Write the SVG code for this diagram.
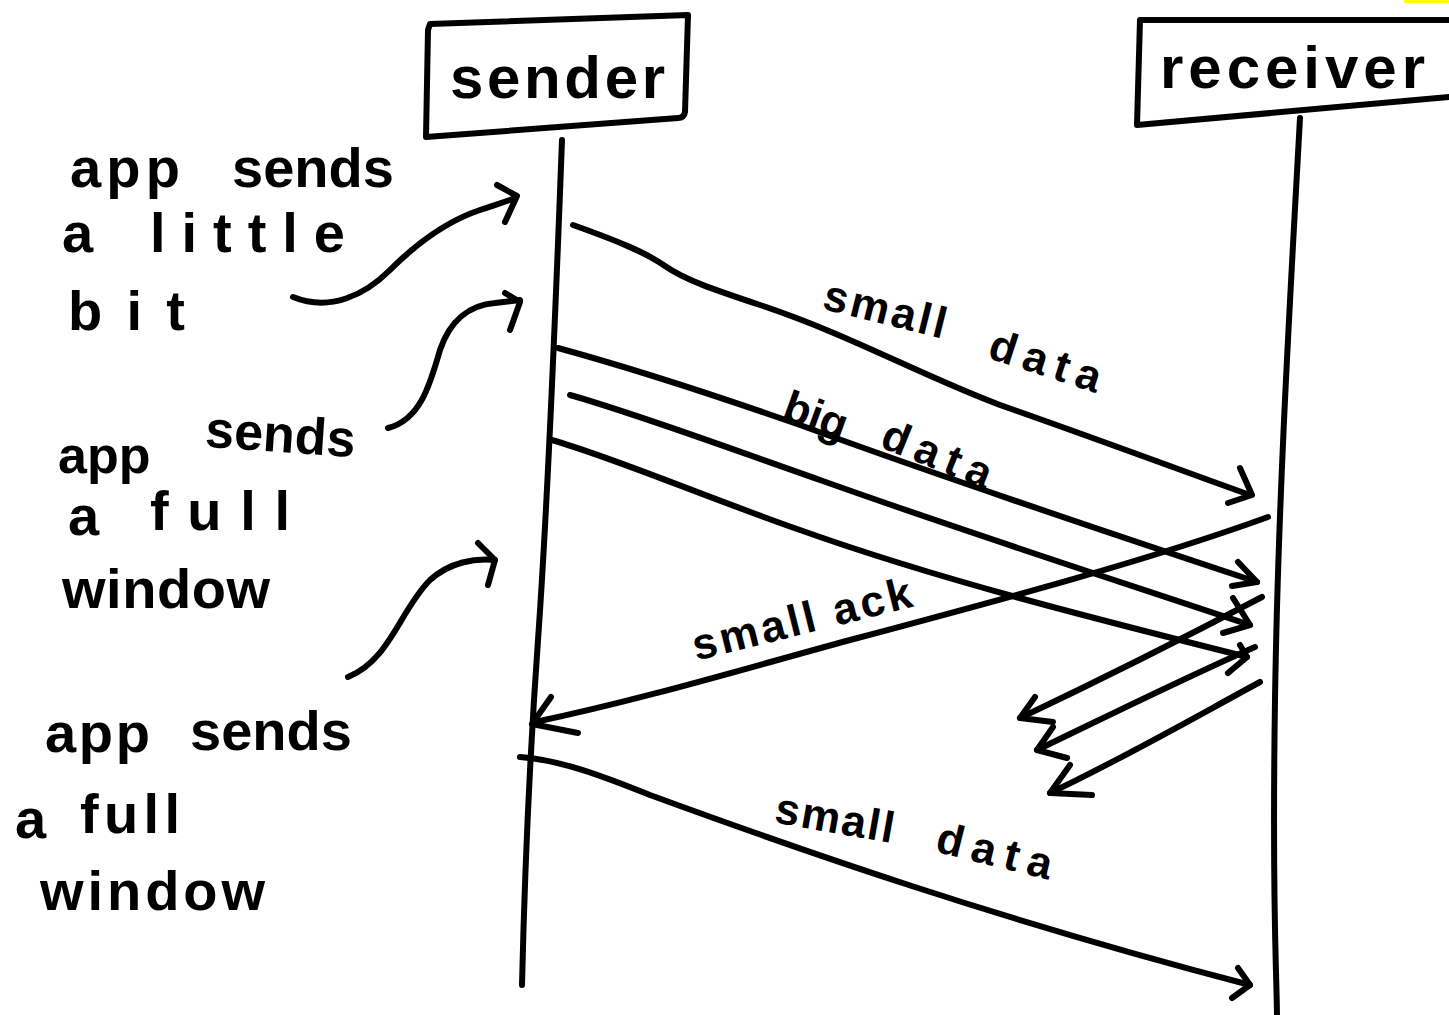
<svg xmlns="http://www.w3.org/2000/svg" width="1449" height="1015" viewBox="0 0 1449 1015">
<style>
.ln{fill:none;stroke:#000;stroke-width:6;stroke-linecap:round;stroke-linejoin:round}
.t{font-family:"Liberation Sans","DejaVu Sans",sans-serif;font-weight:bold;fill:#000}
.big{font-size:56px}
.mid{font-size:52px}
.lbl{font-size:44px}
.hdr{font-size:60px}
</style>
<rect width="1449" height="1015" fill="#fff"/>
<rect x="1404" y="0" width="45" height="3" fill="#ffff00"/>
<g id="sender">
<path class="ln" d="M430,24 L688,15 L685,112 Q684,118 678,118 L426,137 L428,30 Z"/>
<text class="t hdr" x="450" y="98" textLength="215" lengthAdjust="spacing">sender</text>
</g>
<g id="receiver">
<path class="ln" d="M1449,20 L1140,20 L1137,125 L1449,97"/>
<text class="t hdr" x="1160" y="88" textLength="265" lengthAdjust="spacing">receiver</text>
</g>
<g id="lifelines">
<path class="ln" d="M562,140 C556,300 548,500 538,640 S524,900 522,985"/>
<path class="ln" d="M1300,118 C1290,300 1278,500 1275,700 S1276,950 1277,1015"/>
</g>
<g id="notes">
<text class="t big" x="70" y="187" textLength="110" lengthAdjust="spacing">app</text>
<text class="t big" x="232" y="187">sends</text>
<text class="t big" x="62" y="252">a</text>
<text class="t big" x="150" y="252" textLength="195" lengthAdjust="spacing">little</text>
<text class="t big" x="68" y="330" textLength="117" lengthAdjust="spacing">bit</text>
<text class="t mid" x="58" y="473">app</text>
<text class="t mid" x="205" y="452" transform="rotate(4 280 440)">sends</text>
<text class="t big" x="68" y="535">a</text>
<text class="t big" x="150" y="530" textLength="140" lengthAdjust="spacing">full</text>
<text class="t big" x="62" y="608" textLength="208" lengthAdjust="spacing">window</text>
<text class="t big" x="45" y="752" textLength="105" lengthAdjust="spacing">app</text>
<text class="t big" x="190" y="750">sends</text>
<text class="t big" x="15" y="838">a</text>
<text class="t big" x="80" y="833" textLength="100" lengthAdjust="spacing">full</text>
<text class="t big" x="40" y="910" textLength="225" lengthAdjust="spacing">window</text>
</g>
<g id="connectors">
<!-- note pointers -->
<path class="ln" d="M293,297 C330,312 365,295 390,270 C420,240 450,220 480,210 C495,205 505,202 515,198"/>
<path class="ln" d="M497,185 L517,196 L505,222"/>
<path class="ln" d="M388,428 C420,420 430,385 440,350 C450,320 470,305 495,303 L520,300"/>
<path class="ln" d="M505,293 L520,302 L510,330"/>
<path class="ln" d="M348,677 C390,660 400,610 430,580 C450,562 475,558 495,560"/>
<path class="ln" d="M478,543 L495,560 L488,585"/>
<!-- small data -->
<path class="ln" d="M573,225 C615,240 645,252 665,266 C685,280 715,290 760,305 C850,335 920,375 1000,405 C1100,440 1180,470 1250,495"/>
<path class="ln" d="M1240,468 L1252,495 L1228,503"/>
<!-- big data -->
<path class="ln" d="M558,348 C620,365 700,390 800,425 C950,480 1100,530 1257,582"/>
<path class="ln" d="M1238,562 L1257,582 L1232,586"/>
<path class="ln" d="M570,395 C640,415 720,445 820,480 C960,530 1100,575 1250,625"/>
<path class="ln" d="M1233,598 L1250,625 L1223,633"/>
<path class="ln" d="M552,440 C620,460 700,495 800,530 C940,580 1100,620 1247,657"/>
<path class="ln" d="M1240,645 L1247,657 L1228,673"/>
<!-- small ack -->
<path class="ln" d="M1268,517 C1150,560 1000,600 850,640 C740,670 640,700 535,722"/>
<path class="ln" d="M551,697 L532,724 L578,733"/>
<!-- short acks -->
<path class="ln" d="M1262,597 C1180,640 1100,680 1020,718"/>
<path class="ln" d="M1035,697 L1020,718 L1053,722"/>
<path class="ln" d="M1255,647 C1180,680 1110,715 1037,750"/>
<path class="ln" d="M1053,727 L1037,750 L1067,758"/>
<path class="ln" d="M1260,682 C1190,720 1120,760 1050,793"/>
<path class="ln" d="M1070,765 L1050,793 L1092,795"/>
<!-- small data bottom -->
<path class="ln" d="M520,757 C560,760 600,775 650,795 C800,850 1000,920 1250,985"/>
<path class="ln" d="M1238,968 L1250,985 L1232,998"/>
</g>
<g id="labels">
<text class="t lbl" x="885" y="324" text-anchor="middle" textLength="125" lengthAdjust="spacing" transform="rotate(14 885 310)">small</text>
<text class="t lbl" x="1046" y="376" text-anchor="middle" textLength="115" lengthAdjust="spacing" transform="rotate(18 1046 360)">data</text>
<text class="t lbl" x="815" y="430" text-anchor="middle" textLength="65" lengthAdjust="spacing" transform="rotate(20 815 418)">big</text>
<text class="t lbl" x="937" y="469" text-anchor="middle" textLength="115" lengthAdjust="spacing" transform="rotate(22 937 455)">data</text>
<text class="t lbl" x="802" y="634" text-anchor="middle" textLength="225" lengthAdjust="spacing" transform="rotate(-14 802 620)">small ack</text>
<text class="t lbl" x="835" y="833" text-anchor="middle" textLength="120" lengthAdjust="spacing" transform="rotate(10 835 818)">small</text>
<text class="t lbl" x="995" y="866" text-anchor="middle" textLength="118" lengthAdjust="spacing" transform="rotate(14 995 850)">data</text>
</g>
</svg>
